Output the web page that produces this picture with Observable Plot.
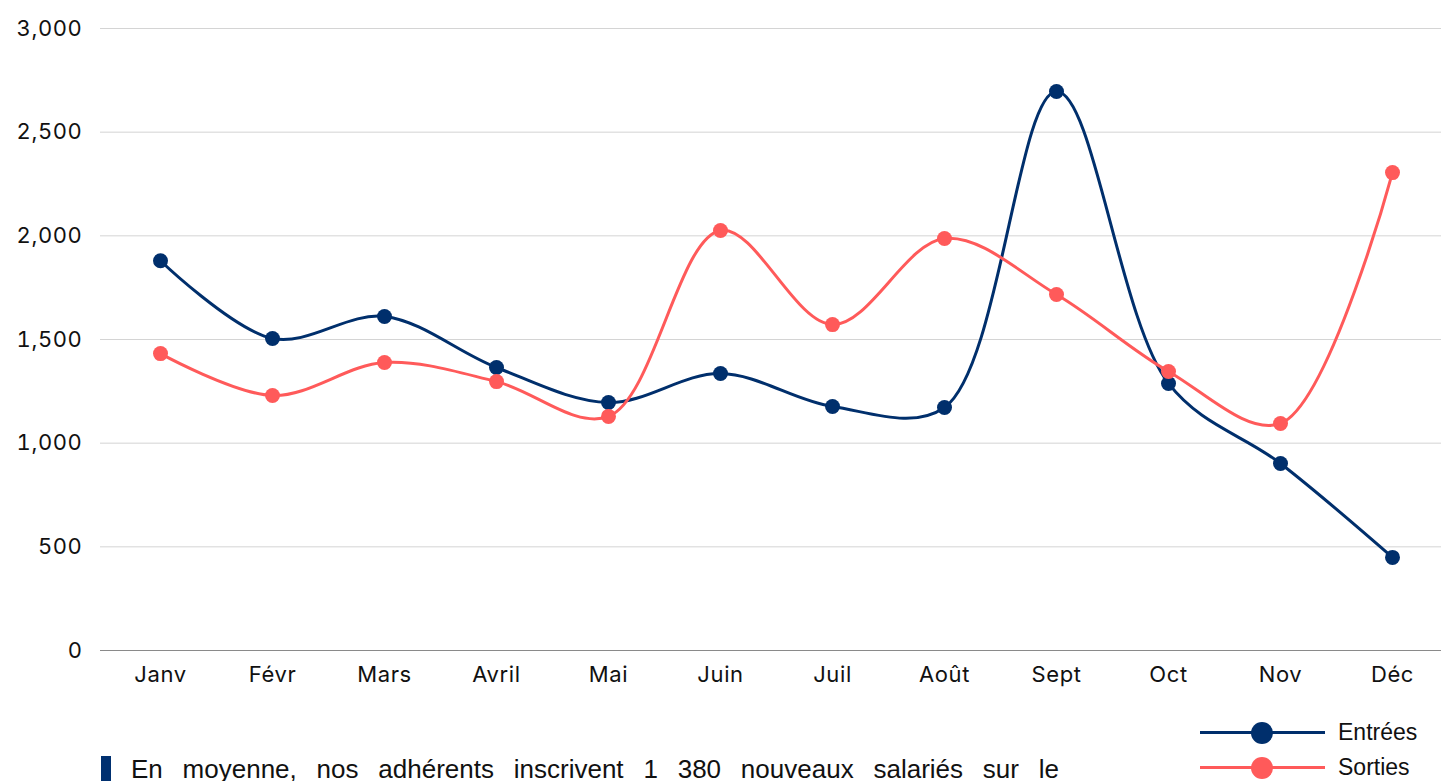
<!DOCTYPE html>
<html><head><meta charset="utf-8">
<script src="https://cdn.jsdelivr.net/npm/d3@7"></script>
<script src="https://cdn.jsdelivr.net/npm/@observablehq/plot@0.6"></script>
<style>
html,body{margin:0;padding:0;background:#fff;overflow:hidden;}
#wrap{position:relative;width:1441px;height:781px;}
#chart{position:absolute;left:0;top:0;}
#chart svg text{letter-spacing:0.6px;}
.legend{position:absolute;left:1200px;font-family:"Liberation Sans",Arial,sans-serif;font-size:23px;color:#111;}
.legend .item{display:flex;align-items:center;height:35px;}
.legend .sw{position:relative;width:125px;height:22px;margin-right:13px;}
.legend .sw .ln{position:absolute;left:0;right:0;top:9.5px;height:3px;}
.legend .sw .dt{position:absolute;left:51px;top:0;width:22px;height:22px;border-radius:50%;}
#caption{position:absolute;left:101px;top:752px;width:958px;font-family:"Liberation Sans",Arial,sans-serif;font-size:26px;color:#111;display:flex;align-items:flex-start;}
#caption .bar{width:10px;height:30px;background:#003070;margin-right:20px;margin-top:4px;flex:none;}
#caption .txt{flex:1;text-align:justify;text-align-last:justify;line-height:34px;}
</style></head>
<body><div id="wrap"><div id="chart"></div>
<div class="legend" style="top:715px">
 <div class="item"><div class="sw"><div class="ln" style="background:#002f6c"></div><div class="dt" style="background:#002f6c"></div></div>Entrées</div>
 <div class="item"><div class="sw"><div class="ln" style="background:#ff5a5a"></div><div class="dt" style="background:#ff5a5a"></div></div>Sorties</div>
</div>
<div id="caption"><div class="bar"></div><div class="txt">En moyenne, nos adhérents inscrivent 1 380 nouveaux salariés sur le</div></div>
</div>
<script>
const months = ["Janv","Févr","Mars","Avril","Mai","Juin","Juil","Août","Sept","Oct","Nov","Déc"];
const entrees = [1880,1505,1611,1365,1196,1336,1177,1172,2696,1288,902,449];
const sorties = [1432,1230,1389,1297,1129,2026,1572,1987,1717,1346,1095,2305];
const yTicks = [0,500,1000,1500,2000,2500,3000];
const seriesNames = ["Entrées","Sorties"];
const colors = ["#002f6c","#ff5a5a"];

const data = [];
months.forEach((m,i)=>{
  data.push({month:m, value:entrees[i], serie:seriesNames[0]});
  data.push({month:m, value:sorties[i], serie:seriesNames[1]});
});

const chart = Plot.plot({
  width:1441, height:700,
  marginLeft:100, marginRight:0, marginTop:28, marginBottom:50,
  style:{fontFamily:"Inter, 'Open Sans', sans-serif", fontSize:"22px", color:"#111", background:"transparent"},
  x:{type:"point", domain:months, range:[156,1396], padding:0, label:null, tickSize:0, tickPadding:16},
  y:{domain:[0,3000], ticks:yTicks, label:null, tickSize:0, tickPadding:18, tickFormat:d3.format(",")},
  color:{domain:seriesNames, range:colors},
  marks:[
    Plot.ruleY(yTicks.filter(d=>d>0), {stroke:"#d4d4d4", strokeWidth:1}),
    Plot.ruleY([0], {stroke:"#8a8a8a", strokeWidth:1.2}),
    Plot.line(data, {x:"month", y:"value", stroke:"serie", z:"serie", curve:"catmull-rom", strokeWidth:3}),
    Plot.dot(data, {x:"month", y:"value", fill:"serie", r:7.5})
  ]
});
document.getElementById("chart").appendChild(chart);
</script>
</body></html>
